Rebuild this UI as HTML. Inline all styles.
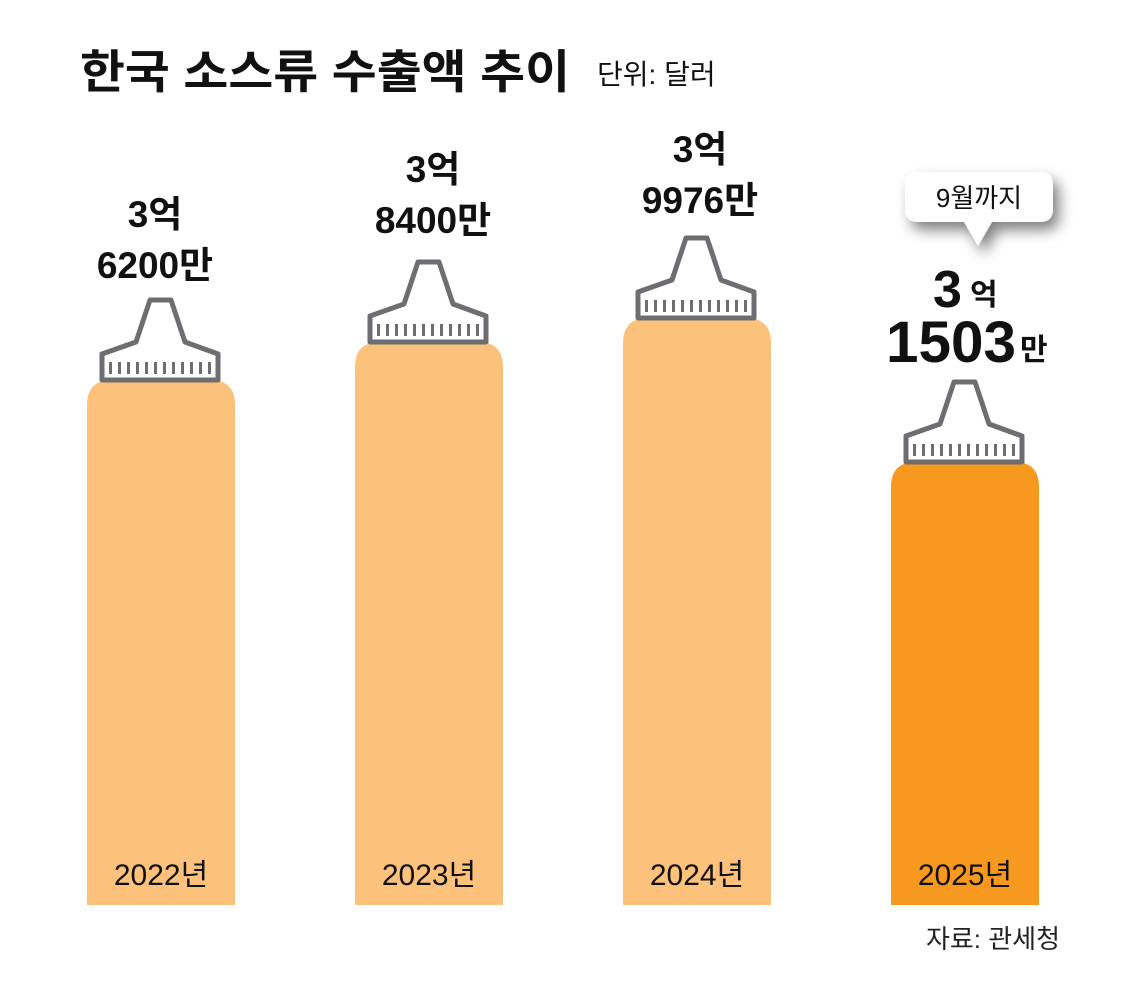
<!DOCTYPE html>
<html><head><meta charset="utf-8"><style>
html,body{margin:0;padding:0;background:#fff;}
svg{display:block;font-family:"Liberation Sans","Noto Sans CJK KR",sans-serif;}
</style></head><body>
<svg width="1135" height="981" viewBox="0 0 1135 981" xmlns="http://www.w3.org/2000/svg">
<defs>
<symbol id="cap" overflow="visible">
<path d="M-59,0 L-59,-26 L-25,-38 L-11,-80 L10,-80 L24,-38 L57,-26 L57,0 Z" fill="#fff" stroke="#6d6e71" stroke-width="5" stroke-linejoin="round"/>
<g fill="#6d6e71">
<rect x="-52" y="-18" width="3" height="12"/><rect x="-43" y="-18" width="3" height="12"/><rect x="-34" y="-18" width="3" height="12"/><rect x="-25" y="-18" width="3" height="12"/><rect x="-16" y="-18" width="3" height="12"/><rect x="-7" y="-18" width="3" height="12"/><rect x="2" y="-18" width="3" height="12"/><rect x="11" y="-18" width="3" height="12"/><rect x="20" y="-18" width="3" height="12"/><rect x="29" y="-18" width="3" height="12"/><rect x="38" y="-18" width="3" height="12"/><rect x="47" y="-18" width="3" height="12"/>
</g>
</symbol>
<filter id="sh" x="-30%" y="-30%" width="160%" height="180%"><feGaussianBlur in="SourceAlpha" stdDeviation="7"/><feOffset dx="6" dy="8"/><feComponentTransfer><feFuncA type="linear" slope="0.5"/></feComponentTransfer><feMerge><feMergeNode/><feMergeNode in="SourceGraphic"/></feMerge></filter>
</defs>
<text x="80" y="88" font-size="46" font-weight="bold" fill="#111" textLength="490" lengthAdjust="spacingAndGlyphs">한국 소스류 수출액 추이</text>
<text x="597" y="84" font-size="28" fill="#111">단위: 달러</text>

<path d="M87,905 V405 Q87,380 112,380 H210 Q235,380 235,405 V905 Z" fill="#fcc17b"/>
<path d="M355,905 V367 Q355,342 380,342 H478 Q503,342 503,367 V905 Z" fill="#fcc17b"/>
<path d="M623,905 V343 Q623,318 648,318 H746 Q771,318 771,343 V905 Z" fill="#fcc17b"/>
<path d="M891,905 V487 Q891,462 916,462 H1014 Q1039,462 1039,487 V905 Z" fill="#f7991f"/>

<use href="#cap" x="161" y="380"/>
<use href="#cap" x="429" y="342"/>
<use href="#cap" x="697" y="318"/>
<use href="#cap" x="965" y="462"/>

<g font-size="37" font-weight="bold" fill="#111" text-anchor="middle">
<text x="155" y="227">3억</text><text x="155" y="278">6200만</text>
<text x="433" y="182">3억</text><text x="433" y="233">8400만</text>
<text x="700" y="162">3억</text><text x="700" y="213">9976만</text>
</g>
<g filter="url(#sh)">
<path d="M918,172 H1040 Q1053,172 1053,185 V209 Q1053,222 1040,222 H992 L978,246 L964,222 H918 Q905,222 905,209 V185 Q905,172 918,172 Z" fill="#fff"/>
</g>
<text x="979" y="207" font-size="26" fill="#111" text-anchor="middle">9월까지</text>
<text x="933" y="307" font-size="52" font-weight="900" fill="#111">3</text>
<text x="970" y="305" font-size="30" font-weight="bold" fill="#111">억</text>
<text x="886" y="362" font-size="58" font-weight="900" fill="#111" textLength="130" lengthAdjust="spacingAndGlyphs">1503</text>
<text x="1020" y="360" font-size="30" font-weight="bold" fill="#111">만</text>

<g font-size="30" fill="#111" text-anchor="middle">
<text x="161" y="885">2022년</text>
<text x="429" y="885">2023년</text>
<text x="697" y="885">2024년</text>
<text x="965" y="885">2025년</text>
</g>
<text x="1060" y="948" font-size="26" fill="#222" text-anchor="end">자료: 관세청</text>
</svg>
</body></html>
